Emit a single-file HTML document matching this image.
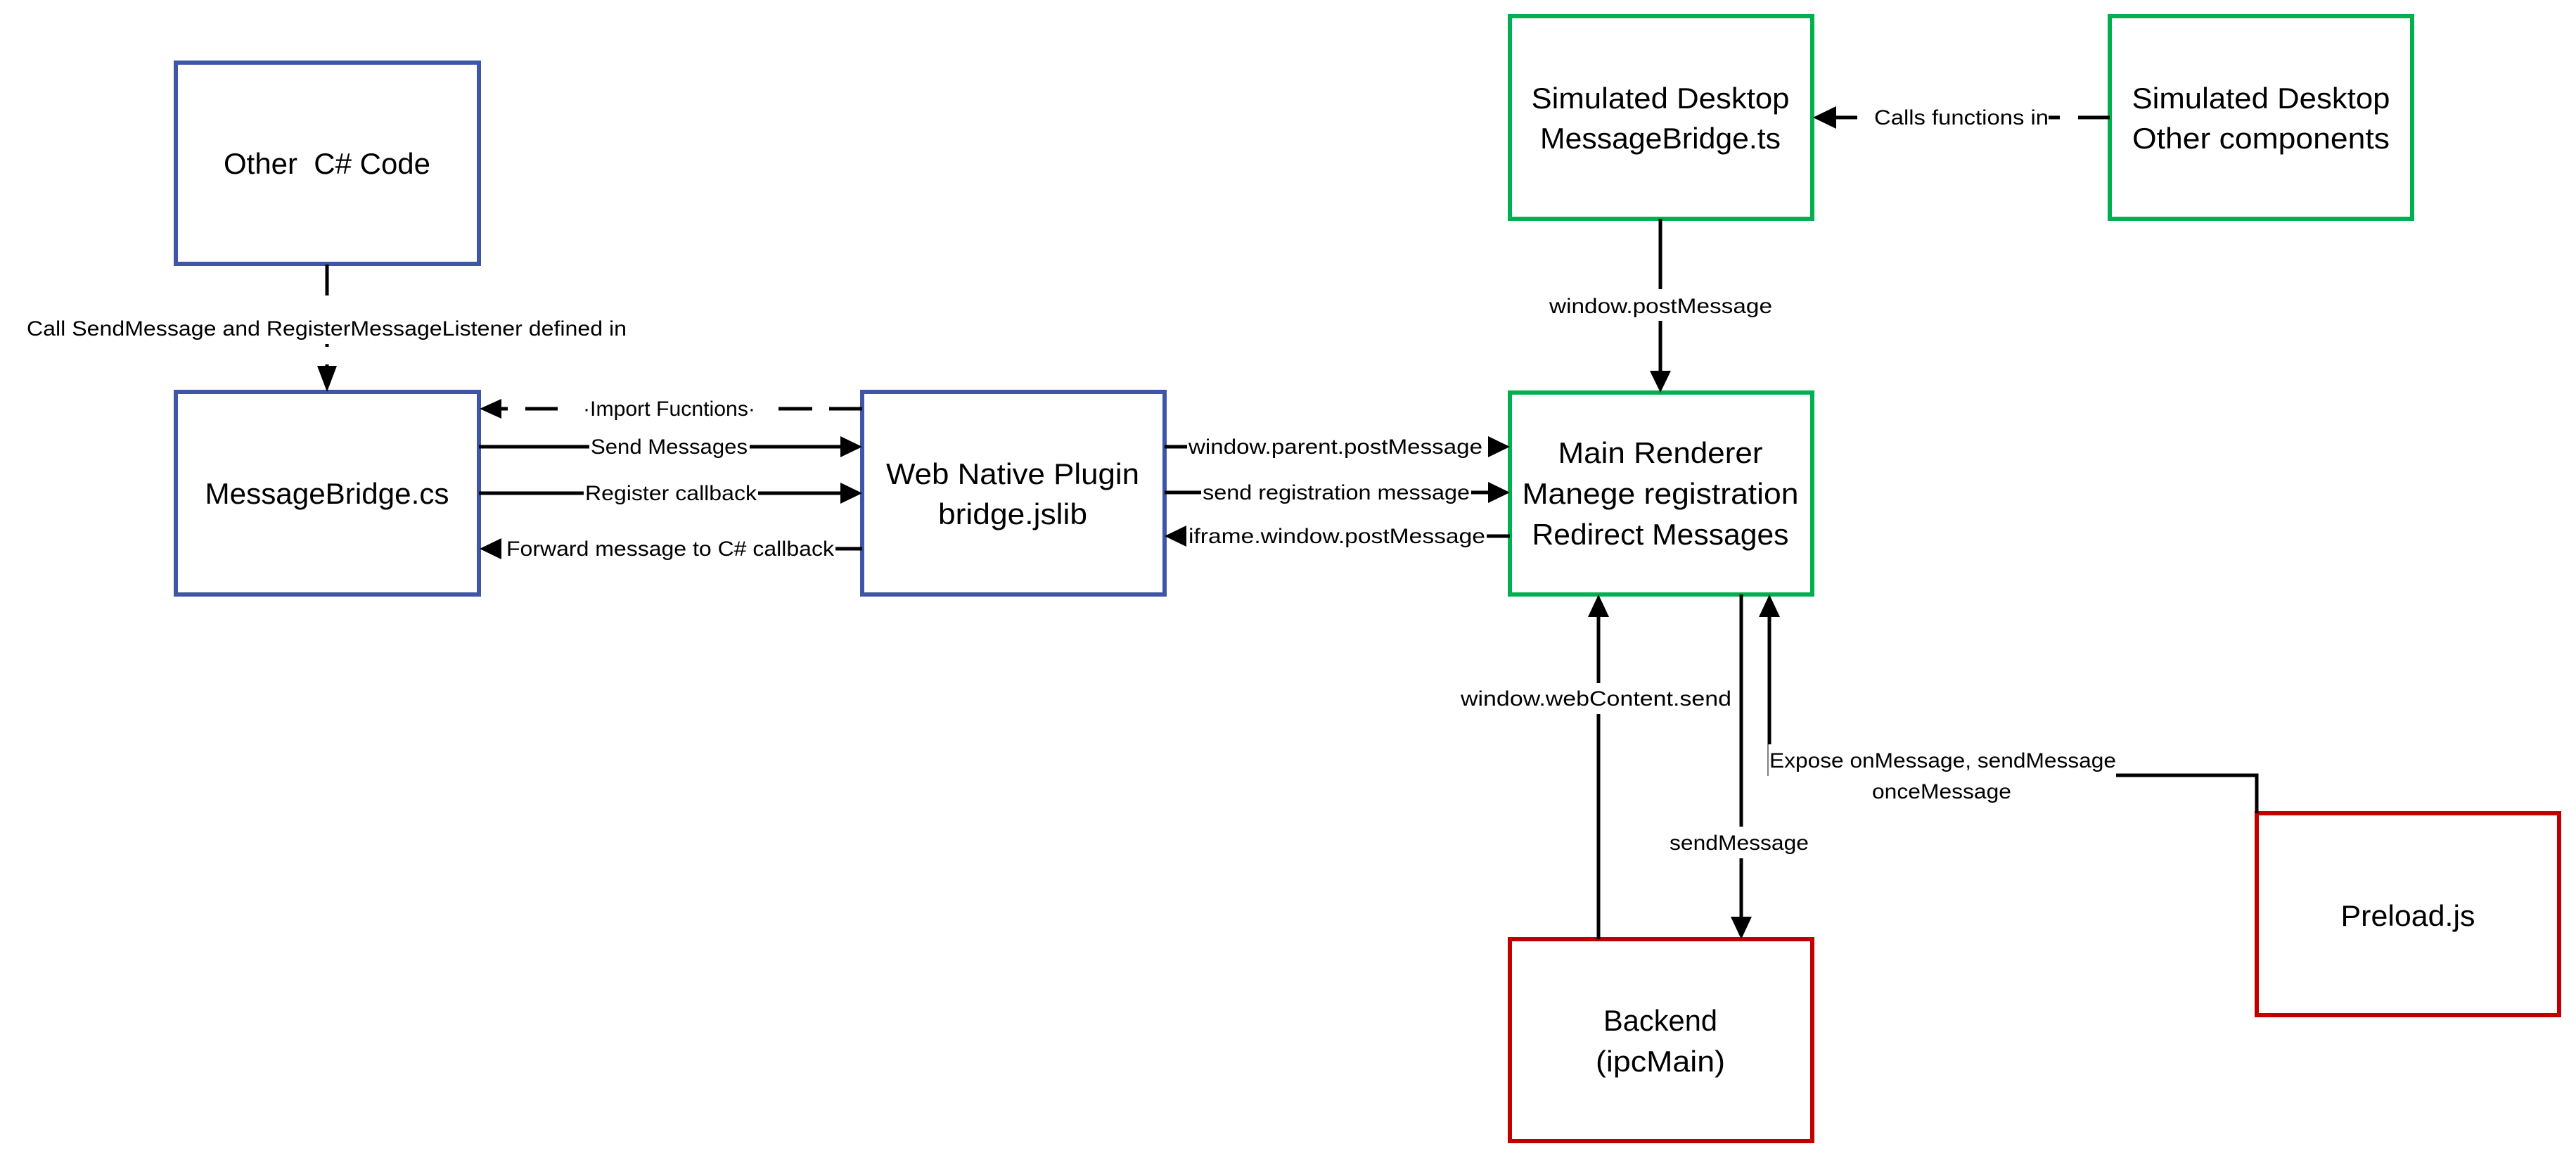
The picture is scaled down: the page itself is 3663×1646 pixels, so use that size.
<!DOCTYPE html>
<html><head><meta charset="utf-8"><style>
html,body{margin:0;padding:0;background:#fff;}
svg{display:block;}
text{font-family:"Liberation Sans",sans-serif;fill:#000;}
.b{font-size:42px;}
.l{font-size:30px;}
</style></head><body>
<svg width="3663" height="1646" viewBox="0 0 3663 1646" xmlns="http://www.w3.org/2000/svg">
<g fill="none" stroke-width="6">
<rect x="250" y="89" width="431" height="286" stroke="#3F56A6"/>
<rect x="250" y="557" width="431" height="288" stroke="#3F56A6"/>
<rect x="1226" y="557" width="430" height="288" stroke="#3F56A6"/>
<rect x="2147" y="23" width="430" height="288" stroke="#00B050"/>
<rect x="3000" y="23" width="430" height="288" stroke="#00B050"/>
<rect x="2147" y="558" width="430" height="287" stroke="#00B050"/>
<rect x="2147" y="1335" width="430" height="287" stroke="#C00000"/>
<rect x="3209" y="1156" width="430" height="287" stroke="#C00000"/>
</g>
<g stroke="#000" stroke-width="5" fill="none">
<line x1="465" y1="376" x2="465" y2="420"/>
<line x1="465" y1="489" x2="465" y2="493"/>
<line x1="465" y1="518" x2="465" y2="530"/>
<line x1="712" y1="581" x2="722" y2="581"/>
<line x1="747" y1="581" x2="793" y2="581"/>
<line x1="1107" y1="581" x2="1155" y2="581"/>
<line x1="1179" y1="581" x2="1226" y2="581"/>
<line x1="681" y1="635" x2="838" y2="635"/>
<line x1="1066" y1="635" x2="1196" y2="635"/>
<line x1="681" y1="701" x2="830" y2="701"/>
<line x1="1078" y1="701" x2="1196" y2="701"/>
<line x1="1188" y1="780" x2="1226" y2="780"/>
<line x1="1656" y1="635" x2="1688" y2="635"/>
<line x1="1656" y1="700" x2="1708" y2="700"/>
<line x1="2092" y1="700" x2="2117" y2="700"/>
<line x1="2114" y1="762" x2="2147" y2="762"/>
<line x1="2361" y1="311" x2="2361" y2="411"/>
<line x1="2361" y1="456" x2="2361" y2="528"/>
<line x1="2605" y1="167" x2="2641" y2="167"/>
<line x1="2913" y1="167" x2="2929" y2="167"/>
<line x1="2955" y1="167" x2="3000" y2="167"/>
<line x1="2273" y1="1335" x2="2273" y2="1015"/>
<line x1="2273" y1="971" x2="2273" y2="876"/>
<line x1="2476" y1="845" x2="2476" y2="1175"/>
<line x1="2476" y1="1220" x2="2476" y2="1305"/>
<line x1="2516" y1="1058" x2="2516" y2="876"/>
<polyline points="3009,1102 3209,1102 3209,1156"/>
</g>
<line x1="2514" y1="1058" x2="2514" y2="1103" stroke="#000" stroke-width="1"/>
<g fill="#000">
<polygon points="465,557 451,520 479,520"/>
<polygon points="682,581 713,567 713,595"/>
<polygon points="1226,635 1195,620 1195,650"/>
<polygon points="1226,701 1195,686 1195,716"/>
<polygon points="682,780 713,765 713,795"/>
<polygon points="2147,635 2116,620 2116,650"/>
<polygon points="2147,700 2116,685 2116,715"/>
<polygon points="1656,762 1687,747 1687,777"/>
<polygon points="2361,558 2346,527 2376,527"/>
<polygon points="2578,167 2611,151 2611,183"/>
<polygon points="2273,845 2258,877 2288,877"/>
<polygon points="2476,1335 2461,1303 2491,1303"/>
<polygon points="2516,845 2501,877 2531,877"/>
</g>
<g class="b" text-anchor="middle">
<text x="465" y="247" textLength="294" lengthAdjust="spacingAndGlyphs">Other&#160; C# Code</text>
<text x="465" y="716" textLength="347" lengthAdjust="spacingAndGlyphs">MessageBridge.cs</text>
<text x="1440" y="688" textLength="360" lengthAdjust="spacingAndGlyphs">Web Native Plugin</text>
<text x="1440" y="745" textLength="212" lengthAdjust="spacingAndGlyphs">bridge.jslib</text>
<text x="2361" y="154" textLength="367" lengthAdjust="spacingAndGlyphs">Simulated Desktop</text>
<text x="2361" y="211" textLength="342" lengthAdjust="spacingAndGlyphs">MessageBridge.ts</text>
<text x="3215" y="154" textLength="367" lengthAdjust="spacingAndGlyphs">Simulated Desktop</text>
<text x="3215" y="211" textLength="366" lengthAdjust="spacingAndGlyphs">Other components</text>
<text x="2361" y="658" textLength="291" lengthAdjust="spacingAndGlyphs">Main Renderer</text>
<text x="2361" y="716" textLength="393" lengthAdjust="spacingAndGlyphs">Manege registration</text>
<text x="2361" y="774" textLength="365" lengthAdjust="spacingAndGlyphs">Redirect Messages</text>
<text x="2361" y="1465" textLength="162" lengthAdjust="spacingAndGlyphs">Backend</text>
<text x="2361" y="1523" textLength="184" lengthAdjust="spacingAndGlyphs">(ipcMain)</text>
<text x="3424" y="1316" textLength="191" lengthAdjust="spacingAndGlyphs">Preload.js</text>
</g>
<g class="l">
<text x="38" y="477" textLength="853" lengthAdjust="spacingAndGlyphs">Call SendMessage and RegisterMessageListener defined in</text>
<text x="829" y="591" textLength="245" lengthAdjust="spacingAndGlyphs">·Import Fucntions·</text>
<text x="840" y="645" textLength="223" lengthAdjust="spacingAndGlyphs">Send Messages</text>
<text x="832" y="711" textLength="244" lengthAdjust="spacingAndGlyphs">Register callback</text>
<text x="720" y="790" textLength="466" lengthAdjust="spacingAndGlyphs">Forward message to C# callback</text>
<text x="1690" y="645" textLength="418" lengthAdjust="spacingAndGlyphs">window.parent.postMessage</text>
<text x="1710" y="710" textLength="380" lengthAdjust="spacingAndGlyphs">send registration message</text>
<text x="1690" y="772" textLength="422" lengthAdjust="spacingAndGlyphs">iframe.window.postMessage</text>
<text x="2203" y="445" textLength="317" lengthAdjust="spacingAndGlyphs">window.postMessage</text>
<text x="2665" y="177" textLength="248" lengthAdjust="spacingAndGlyphs">Calls functions in</text>
<text x="2077" y="1003" textLength="385" lengthAdjust="spacingAndGlyphs">window.webContent.send</text>
<text x="2374" y="1208" textLength="198" lengthAdjust="spacingAndGlyphs">sendMessage</text>
<text x="2516" y="1091" textLength="493" lengthAdjust="spacingAndGlyphs">Expose onMessage, sendMessage</text>
<text x="2662" y="1135" textLength="198" lengthAdjust="spacingAndGlyphs">onceMessage</text>
</g>
</svg>
</body></html>
